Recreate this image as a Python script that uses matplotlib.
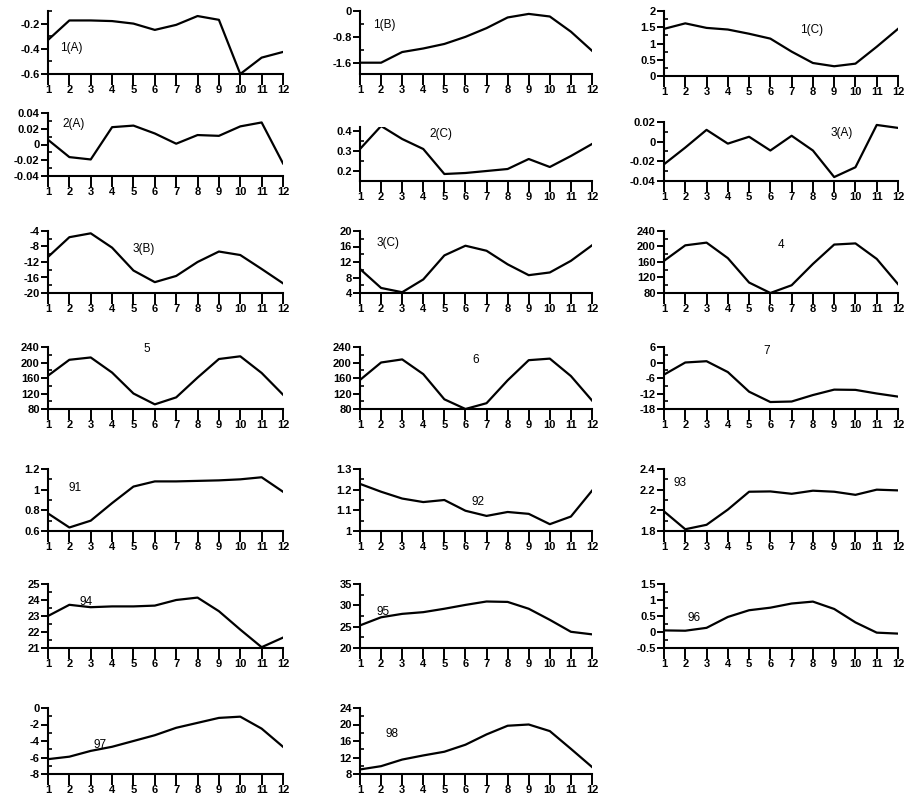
import matplotlib
matplotlib.use("Agg")
import matplotlib.pyplot as plt
from matplotlib.ticker import MultipleLocator, FuncFormatter
import numpy as np

months = list(range(1, 13))

s1A = [-0.33, -0.175, -0.175, -0.18, -0.2, -0.25, -0.21, -0.14, -0.17, -0.6, -0.47, -0.425]
s1B = [-1.6, -1.6, -1.27, -1.16, -1.02, -0.8, -0.53, -0.2, -0.09, -0.17, -0.64, -1.23]
s1C = [1.45, 1.62, 1.48, 1.43, 1.3, 1.15, 0.75, 0.4, 0.3, 0.38, 0.9, 1.45]
s2A = [0.006, -0.016, -0.019, 0.022, 0.024, 0.014, 0.001, 0.012, 0.011, 0.023, 0.028, -0.024]
s2C = [0.31, 0.425, 0.36, 0.31, 0.185, 0.19, 0.2, 0.21, 0.26, 0.22, 0.275, 0.335]
s3A = [-0.023, -0.006, 0.012, -0.002, 0.005, -0.009, 0.006, -0.009, -0.036, -0.026, 0.017, 0.014]
s3B = [-10.7, -5.6, -4.6, -8.3, -14.2, -17.2, -15.6, -12.0, -9.3, -10.2, -13.8, -17.5]
s3C = [10.2, 5.3, 4.2, 7.5, 13.7, 16.2, 14.9, 11.4, 8.6, 9.3, 12.3, 16.3]
s4 = [163, 203, 210, 170, 107, 80, 100, 155, 205, 208, 168, 103]
s5 = [166, 207, 213, 174, 120, 92, 110, 161, 209, 216, 173, 117]
s6 = [155, 200, 208, 170, 105, 80, 95, 154, 206, 210, 165, 102]
s7 = [-4.7, 0.0, 0.5, -3.7, -11.3, -15.3, -15.1, -12.6, -10.5, -10.6, -12.0, -13.2]
s91 = [0.77, 0.634, 0.7, 0.87, 1.03, 1.08, 1.08, 1.085, 1.09, 1.1, 1.12, 0.98]
s92 = [1.228, 1.19, 1.157, 1.14, 1.15, 1.098, 1.073, 1.092, 1.083, 1.033, 1.07, 1.195]
s93 = [1.99, 1.817, 1.86, 2.007, 2.18, 2.183, 2.16, 2.19, 2.18, 2.15, 2.2, 2.193]
s94 = [23.0, 23.7, 23.55, 23.6, 23.6, 23.65, 24.0, 24.15, 23.3, 22.15, 21.05, 21.65]
s95 = [25.3, 27.2, 28.0, 28.4, 29.2, 30.1, 30.9, 30.8, 29.2, 26.6, 23.8, 23.2]
s96 = [0.05, 0.04, 0.13, 0.47, 0.68, 0.76, 0.89, 0.95, 0.72, 0.3, -0.02, -0.05]
s97 = [-6.2, -5.9, -5.2, -4.7, -4.0, -3.3, -2.4, -1.8, -1.2, -1.05, -2.5, -4.7]
s98 = [9.1, 9.9, 11.5, 12.5, 13.4, 15.1, 17.6, 19.7, 20.0, 18.4, 14.1, 9.7]

labels = ["1(A)", "1(B)", "1(C)", "2(A)", "2(C)", "3(A)", "3(B)", "3(C)", "4",
          "5", "6", "7", "91", "92", "93", "94", "95", "96", "97", "98"]
series = [s1A, s1B, s1C, s2A, s2C, s3A, s3B, s3C, s4, s5, s6, s7,
          s91, s92, s93, s94, s95, s96, s97, s98]
# (ymin, ymax, major step, minor step)
yspec = [(-0.6, -0.1, 0.2, 0.1), (-1.95, 0, 0.8, 0.4), (0, 2, 0.5, 0.25),
         (-0.04, 0.04, 0.02, 0.01), (0.15, 0.42, 0.1, 0.05), (-0.04, 0.02, 0.02, 0.01),
         (-20, -4, 4, 2), (4, 20, 4, 2), (80, 240, 40, 20),
         (80, 240, 40, 20), (80, 240, 40, 20), (-18, 6, 6, 3),
         (0.6, 1.2, 0.2, 0.1), (1.0, 1.3, 0.1, 0.05), (1.8, 2.4, 0.2, 0.1),
         (21, 25, 1, 0.5), (20, 35, 5, 2.5), (-0.5, 1.5, 0.5, 0.25),
         (-8, 0, 2, 1), (8, 24, 4, 2)]
# label positions (axes fraction) and alignment
lab_pos = [(0.05, 0.41, 'left'), (0.056, 0.78, 'left'), (0.58, 0.71, 'left'),
           (0.06, 0.83, 'left'), (0.30, 0.87, 'left'), (0.71, 0.81, 'left'),
           (0.36, 0.71, 'left'), (0.07, 0.80, 'left'), (0.50, 0.77, 'center'),
           (0.42, 0.97, 'center'), (0.50, 0.79, 'center'), (0.44, 0.94, 'center'),
           (0.115, 0.69, 'center'), (0.51, 0.47, 'center'), (0.07, 0.77, 'center'),
           (0.16, 0.72, 'center'), (0.10, 0.56, 'center'), (0.13, 0.47, 'center'),
           (0.22, 0.44, 'center'), (0.14, 0.60, 'center')]

W, H = 910, 802
cols = [(48, 283), (360, 592), (664, 898)]
rows = [(11, 74), (113, 179), (231, 293), (347, 409), (469, 531), (584, 648), (708, 774)]
special = {3: (113, 176), 4: (127, 181), 5: (122, 181), 2: (11, 76)}

fig = plt.figure(figsize=(W / 100, H / 100), dpi=100)
plt.rcParams['font.family'] = ['Liberation Sans', 'DejaVu Sans']

fmt = FuncFormatter(lambda v, p: ('%g' % round(v, 6)))

for i, (lab, ys) in enumerate(zip(labels, series)):
    r, c = divmod(i, 3)
    x0, x1 = cols[c]
    top, bot = special.get(i, rows[r])
    ax = fig.add_axes([x0 / W, 1 - bot / H, (x1 - x0) / W, (bot - top) / H])
    ax.plot(months, ys, color='black', lw=1.6)
    ymin, ymax, maj, mnr = yspec[i]
    ax.set_xlim(1, 12)
    ax.set_ylim(ymin, ymax)
    ax.set_xticks(months)
    ax.yaxis.set_major_locator(MultipleLocator(maj))
    ax.yaxis.set_minor_locator(MultipleLocator(mnr))
    ax.yaxis.set_major_formatter(fmt)
    for s in ['top', 'right']:
        ax.spines[s].set_visible(False)
    for s in ['left', 'bottom']:
        ax.spines[s].set_linewidth(1.5)
    ax.tick_params(axis='x', direction='out', length=8, width=1.4, pad=0,
                   labelsize=8)
    ax.tick_params(axis='y', which='major', direction='out', length=5, width=1.4,
                   pad=1, labelsize=8)
    ax.tick_params(axis='y', which='minor', direction='in', length=3, width=1.2)
    for t in ax.get_xticklabels() + ax.get_yticklabels():
        t.set_fontweight('bold')
    ax.patch.set_alpha(0)
    px, py, ha = lab_pos[i]
    ax.text(px, py, lab, transform=ax.transAxes, ha=ha, va='center',
            fontsize=8.5)

fig.savefig('out.png', dpi=100)
